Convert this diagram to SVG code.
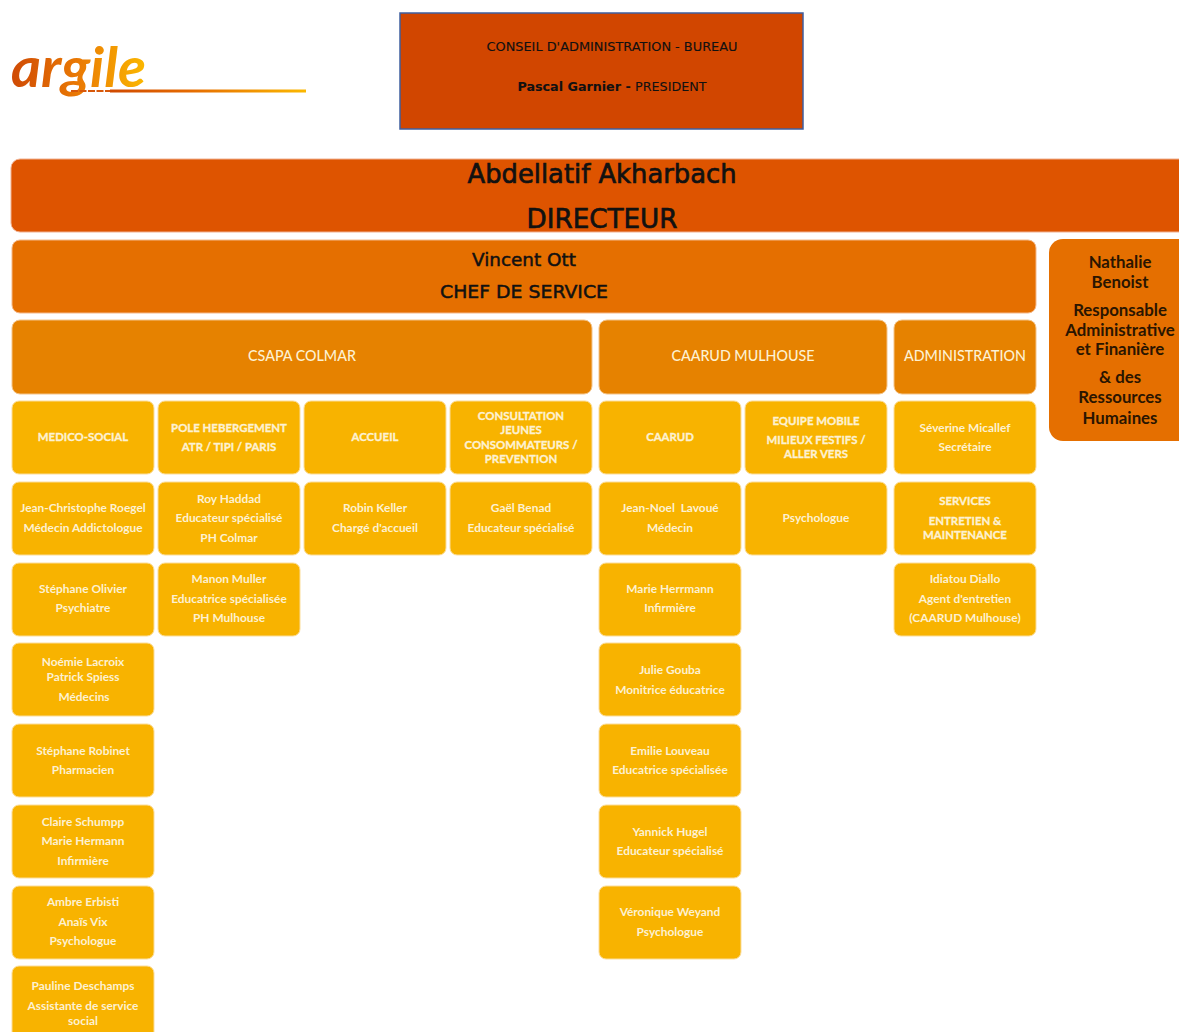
<svg xmlns="http://www.w3.org/2000/svg" width="1179" height="1032" viewBox="0 0 1179 1032">
<style>
.n{fill:#f8b300;stroke:#fbdd9a;stroke-width:1}
.t{font-family:"Lato","Open Sans",sans-serif;font-size:11.9px;font-weight:700;fill:#fdf1d2;text-anchor:middle}
.b{font-family:"Lato","Open Sans",sans-serif;font-size:11.4px;font-weight:700;fill:#fdf1d2;stroke:#fdf1d2;stroke-width:.35;text-anchor:middle}
.c{font-family:"Lato","Open Sans",sans-serif;font-size:14.3px;font-weight:500;fill:#fdf1d2;text-anchor:middle}
.k{font-family:"DejaVu Sans",sans-serif;fill:#111;stroke:#111;text-anchor:middle}
.h{font-family:"Lato","Open Sans",sans-serif;font-size:16.8px;font-weight:700;fill:#2a1500;text-anchor:middle}
</style>
<defs>
<linearGradient id="lg" x1="0" x2="1" y1="0" y2="0"><stop offset="0" stop-color="#cf4a05"/><stop offset="0.5" stop-color="#ea7a04"/><stop offset="1" stop-color="#fbb800"/></linearGradient>
<linearGradient id="lg2" x1="0" x2="1" y1="0" y2="0"><stop offset="0" stop-color="#d04a00"/><stop offset="0.4" stop-color="#e56a00"/><stop offset="1" stop-color="#fbb800"/></linearGradient>
</defs>
<rect width="1179" height="1032" fill="#fff"/>
<g id="logo">
<text x="11" y="87" font-family="'Lato',sans-serif" font-style="italic" font-weight="700" font-size="55" fill="url(#lg)" textLength="135" lengthAdjust="spacingAndGlyphs">argile</text>
<rect x="110" y="89.500" width="196" height="3" fill="url(#lg2)"/>
<line x1="71" y1="91" x2="110" y2="91" stroke="#d8580a" stroke-width="2" stroke-dasharray="7 1.500"/>
</g>
<g id="conseil">
<rect x="400" y="13" width="403" height="116" fill="#d14600" stroke="#3f5f9f" stroke-width="1.500"/>
<text class="k" stroke-width=".15" x="612" y="51" font-size="12" textLength="251" lengthAdjust="spacingAndGlyphs">CONSEIL D'ADMINISTRATION - BUREAU</text>
<text class="k" stroke-width=".1" x="612" y="91" font-size="12" textLength="189" lengthAdjust="spacingAndGlyphs"><tspan font-weight="700">Pascal Garnier - </tspan>PRESIDENT</text>
</g>
<g id="directeur">
<rect x="11" y="159" width="1180" height="73" rx="9" fill="#de5400" stroke="#f0b090"/>
<text class="k" stroke-width=".7" x="602" y="183" font-size="27" textLength="269" lengthAdjust="spacingAndGlyphs">Abdellatif Akharbach</text>
<text class="k" stroke-width=".7" x="602" y="228" font-size="27" textLength="151" lengthAdjust="spacingAndGlyphs">DIRECTEUR</text>
</g>
<g id="chef">
<rect x="12" y="240" width="1024" height="73" rx="8" fill="#e56f00" stroke="#f4b98a"/>
<text class="k" stroke-width=".5" x="524" y="266" font-size="18" textLength="104" lengthAdjust="spacingAndGlyphs">Vincent Ott</text>
<text class="k" stroke-width=".5" x="524" y="298" font-size="18" textLength="168" lengthAdjust="spacingAndGlyphs">CHEF DE SERVICE</text>
</g>
<g id="nathalie">
<rect x="1049" y="239" width="150" height="202" rx="14" fill="#e56f00"/>
<text class="h" x="1120" y="268">Nathalie</text>
<text class="h" x="1120" y="288">Benoist</text>
<text class="h" x="1120" y="316">Responsable</text>
<text class="h" x="1120" y="336">Administrative</text>
<text class="h" x="1120" y="355">et Finanière</text>
<text class="h" x="1120" y="383">&amp; des</text>
<text class="h" x="1120" y="403">Ressources</text>
<text class="h" x="1120" y="424">Humaines</text>
</g>
<g id="csapa"><rect x="12" y="320" width="580" height="74" rx="8" fill="#e68200" stroke="#f4c48a"/><text class="c" x="302" y="361">CSAPA COLMAR</text></g>
<g id="caarud-mulhouse"><rect x="599" y="320" width="288" height="74" rx="8" fill="#e68200" stroke="#f4c48a"/><text class="c" x="743" y="361">CAARUD MULHOUSE</text></g>
<g id="administration"><rect x="894" y="320" width="142" height="74" rx="8" fill="#e68200" stroke="#f4c48a"/><text class="c" x="965" y="361">ADMINISTRATION</text></g>

<g id="medico"><rect class="n" x="12" y="401" width="142" height="73" rx="7"/><text class="b" x="83" y="441">MEDICO-SOCIAL</text></g>
<g id="pole"><rect class="n" x="158" y="401" width="142" height="73" rx="7"/><text class="b" x="229" y="432">POLE HEBERGEMENT</text><text class="b" x="229" y="451">ATR / TIPI / PARIS</text></g>
<g id="accueil"><rect class="n" x="304" y="401" width="142" height="73" rx="7"/><text class="b" x="375" y="441">ACCUEIL</text></g>
<g id="consultation"><rect class="n" x="450" y="401" width="142" height="73" rx="7"/><text class="b" x="521" y="420">CONSULTATION</text><text class="b" x="521" y="434">JEUNES</text><text class="b" x="521" y="449">CONSOMMATEURS /</text><text class="b" x="521" y="463">PREVENTION</text></g>
<g id="caarud"><rect class="n" x="599" y="401" width="142" height="73" rx="7"/><text class="b" x="670" y="441">CAARUD</text></g>
<g id="equipe"><rect class="n" x="745" y="401" width="142" height="73" rx="7"/><text class="b" x="816" y="425">EQUIPE MOBILE</text><text class="b" x="816" y="444">MILIEUX FESTIFS /</text><text class="b" x="816" y="458">ALLER VERS</text></g>
<g id="severine"><rect class="n" x="894" y="401" width="142" height="73" rx="7"/><text class="t" x="965" y="432">Séverine Micallef</text><text class="t" x="965" y="451">Secrétaire</text></g>

<g id="roegel"><rect class="n" x="12" y="482" width="142" height="73" rx="7"/><text class="t" x="83" y="512">Jean-Christophe Roegel</text><text class="t" x="83" y="532">Médecin Addictologue</text></g>
<g id="haddad"><rect class="n" x="158" y="482" width="142" height="73" rx="7"/><text class="t" x="229" y="503">Roy Haddad</text><text class="t" x="229" y="522">Educateur spécialisé</text><text class="t" x="229" y="542">PH Colmar</text></g>
<g id="keller"><rect class="n" x="304" y="482" width="142" height="73" rx="7"/><text class="t" x="375" y="512">Robin Keller</text><text class="t" x="375" y="532">Chargé d'accueil</text></g>
<g id="benad"><rect class="n" x="450" y="482" width="142" height="73" rx="7"/><text class="t" x="521" y="512">Gaël Benad</text><text class="t" x="521" y="532">Educateur spécialisé</text></g>
<g id="lavoue"><rect class="n" x="599" y="482" width="142" height="73" rx="7"/><text class="t" x="670" y="512" xml:space="preserve">Jean-Noel  Lavoué</text><text class="t" x="670" y="532">Médecin</text></g>
<g id="psychologue"><rect class="n" x="745" y="482" width="142" height="73" rx="7"/><text class="t" x="816" y="522">Psychologue</text></g>
<g id="services"><rect class="n" x="894" y="482" width="142" height="73" rx="7"/><text class="b" x="965" y="505">SERVICES</text><text class="b" x="965" y="525">ENTRETIEN &amp;</text><text class="b" x="965" y="539">MAINTENANCE</text></g>

<g id="olivier"><rect class="n" x="12" y="563" width="142" height="73" rx="7"/><text class="t" x="83" y="593">Stéphane Olivier</text><text class="t" x="83" y="612">Psychiatre</text></g>
<g id="muller"><rect class="n" x="158" y="563" width="142" height="73" rx="7"/><text class="t" x="229" y="583">Manon Muller</text><text class="t" x="229" y="603">Educatrice spécialisée</text><text class="t" x="229" y="622">PH Mulhouse</text></g>
<g id="herrmann"><rect class="n" x="599" y="563" width="142" height="73" rx="7"/><text class="t" x="670" y="593">Marie Herrmann</text><text class="t" x="670" y="612">Infirmière</text></g>
<g id="diallo"><rect class="n" x="894" y="563" width="142" height="73" rx="7"/><text class="t" x="965" y="583">Idiatou Diallo</text><text class="t" x="965" y="603">Agent d'entretien</text><text class="t" x="965" y="622">(CAARUD Mulhouse)</text></g>

<g id="lacroix"><rect class="n" x="12" y="643" width="142" height="73" rx="7"/><text class="t" x="83" y="666">Noémie Lacroix</text><text class="t" x="83" y="681">Patrick Spiess</text><text class="t" x="84" y="701">Médecins</text></g>
<g id="gouba"><rect class="n" x="599" y="643" width="142" height="73" rx="7"/><text class="t" x="670" y="674">Julie Gouba</text><text class="t" x="670" y="694">Monitrice éducatrice</text></g>

<g id="robinet"><rect class="n" x="12" y="724" width="142" height="73" rx="7"/><text class="t" x="83" y="755">Stéphane Robinet</text><text class="t" x="83" y="774">Pharmacien</text></g>
<g id="louveau"><rect class="n" x="599" y="724" width="142" height="73" rx="7"/><text class="t" x="670" y="755">Emilie Louveau</text><text class="t" x="670" y="774">Educatrice spécialisée</text></g>

<g id="schumpp"><rect class="n" x="12" y="805" width="142" height="73" rx="7"/><text class="t" x="83" y="825.500">Claire Schumpp</text><text class="t" x="83" y="845">Marie Hermann</text><text class="t" x="83" y="865">Infirmière</text></g>
<g id="hugel"><rect class="n" x="599" y="805" width="142" height="73" rx="7"/><text class="t" x="670" y="835.500">Yannick Hugel</text><text class="t" x="670" y="855">Educateur spécialisé</text></g>

<g id="erbisti"><rect class="n" x="12" y="886" width="142" height="73" rx="7"/><text class="t" x="83" y="906">Ambre Erbisti</text><text class="t" x="83" y="926">Anaïs Vix</text><text class="t" x="83" y="945">Psychologue</text></g>
<g id="weyand"><rect class="n" x="599" y="886" width="142" height="73" rx="7"/><text class="t" x="670" y="916">Véronique Weyand</text><text class="t" x="670" y="936">Psychologue</text></g>

<g id="deschamps"><rect class="n" x="12" y="966" width="142" height="80" rx="7"/><text class="t" x="83" y="989.500">Pauline Deschamps</text><text class="t" x="83" y="1010">Assistante de service</text><text class="t" x="83" y="1025">social</text></g>
<g id="connectors"></g>
</svg>
